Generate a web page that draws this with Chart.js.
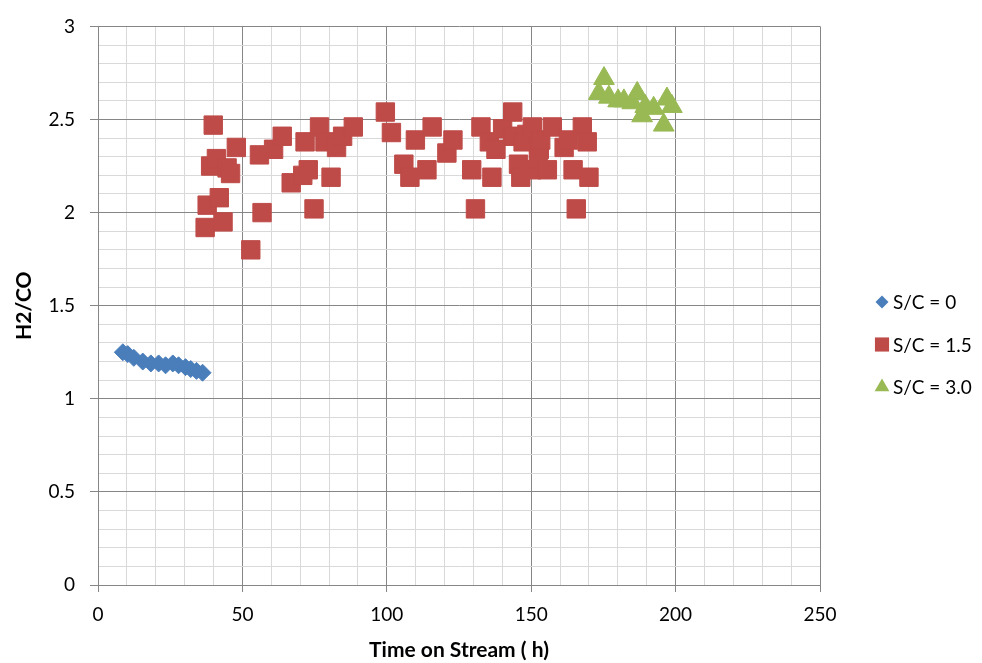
<!DOCTYPE html>
<html>
<head>
<meta charset="utf-8">
<script src="https://cdn.jsdelivr.net/npm/chart.js@4.4.1/dist/chart.umd.min.js"></script>
<style>
    html, body { margin: 0; padding: 0; background: #fff; }
    #wrap { width: 982px; height: 663px; position: relative; }
</style>
</head>
<body>
<div id="wrap"><canvas id="ratioChart"></canvas></div>
<script>
// S/C = 0
const sc0Time = [8.6, 10.3, 12.4, 15.5, 18.3, 21.0, 23.4, 25.9, 27.9, 30.3, 32.1, 34.1, 36.2];
const sc0Ratio = [1.25, 1.24, 1.22, 1.20, 1.19, 1.19, 1.18, 1.19, 1.18, 1.17, 1.16, 1.15, 1.14];

// S/C = 1.5
const sc15Time = [37.1, 37.8, 39.0, 39.9, 41.0, 42.0, 43.3, 44.7, 45.9, 47.9, 52.9, 55.9, 56.8, 60.8,
    63.8, 66.9, 70.9, 71.7, 72.8, 74.8, 76.7, 78.6, 80.7, 82.6, 84.7, 88.4,
    99.5, 101.6, 105.9, 108.0, 109.9, 113.9, 115.7, 120.8, 122.9, 129.4, 130.7, 132.6, 135.5, 136.4,
    137.8, 140.1, 143.6, 143.6, 145.6, 146.4, 147.2, 148.5, 150.2, 150.4, 152.5, 152.8, 153.3, 155.6,
    157.3, 161.4, 162.9, 164.5, 165.6, 167.7, 169.4, 170.0];
const sc15Ratio = [1.92, 2.04, 2.25, 2.47, 2.29, 2.08, 1.95, 2.24, 2.21, 2.35, 1.80, 2.31, 2.00, 2.34,
    2.41, 2.16, 2.20, 2.38, 2.23, 2.02, 2.46, 2.38, 2.19, 2.35, 2.41, 2.46,
    2.54, 2.43, 2.26, 2.19, 2.39, 2.23, 2.46, 2.32, 2.39, 2.23, 2.02, 2.46, 2.38, 2.19,
    2.34, 2.45, 2.54, 2.41, 2.26, 2.19, 2.38, 2.42, 2.23, 2.46, 2.29, 2.34, 2.39, 2.23,
    2.46, 2.35, 2.39, 2.23, 2.02, 2.46, 2.38, 2.19];

// S/C = 3.0
const sc30Time = [173.4, 175.2, 176.9, 180.1, 182.1, 185.0, 186.7, 188.4, 189.5, 192.4, 195.9, 197.0, 198.7];
const sc30Ratio = [2.64, 2.72, 2.62, 2.60, 2.60, 2.59, 2.64, 2.52, 2.57, 2.56, 2.47, 2.61, 2.57];

const seriesLabels = ['S/C = 0', 'S/C = 1.5', 'S/C = 3.0'];
const xMajorTicks = [0, 50, 100, 150, 200, 250];
const yMajorTicks = [0, 0.5, 1, 1.5, 2, 2.5, 3];

const FONT = 'Lato';
const majorGrid = '#868686';
const minorGrid = '#D9D9D9';

function toPoints(xs, ys) {
    return xs.map((x, i) => ({ x: x, y: ys[i] }));
}

const isMajorX = v => xMajorTicks.includes(Math.round(v));
const isMajorY = v => yMajorTicks.includes(Math.round(v * 10) / 10);

// legend drawn at the right, outside the plot
const sideLegend = {
    id: 'sideLegend',
    afterDraw(chart) {
        const ctx = chart.ctx;
        const x0 = chart.chartArea.right + 62;
        ctx.save();
        ctx.font = '19px ' + FONT;
        ctx.textBaseline = 'middle';
        ctx.textAlign = 'left';
        chart.data.datasets.forEach((ds, i) => {
            const y = 302 + i * 42.5;
            ctx.fillStyle = ds.backgroundColor;
            ctx.strokeStyle = ds.borderColor;
            Chart.helpers.drawPoint(ctx, {
                pointStyle: ds.pointStyle,
                radius: ds.legendRadius,
                borderWidth: 0,
                rotation: 0
            }, x0, y);
            ctx.fillStyle = '#000';
            ctx.fillText(ds.label, x0 + 11, y + 1);
        });
        ctx.restore();
    }
};

const ctx = document.getElementById('ratioChart').getContext('2d');

new Chart(ctx, {
    type: 'scatter',
    data: {
        datasets: [
            {
                label: seriesLabels[0],
                data: toPoints(sc0Time, sc0Ratio),
                pointStyle: 'rectRot',
                pointRadius: 8.5,
                backgroundColor: '#4A7EBB',
                borderColor: '#4A7EBB',
                borderWidth: 1,
                legendRadius: 6.5
            },
            {
                label: seriesLabels[1],
                data: toPoints(sc15Time, sc15Ratio),
                pointStyle: 'rect',
                pointRadius: 13,
                backgroundColor: '#BE4B48',
                borderColor: '#BE4B48',
                borderWidth: 1,
                legendRadius: 10
            },
            {
                label: seriesLabels[2],
                data: toPoints(sc30Time, sc30Ratio),
                pointStyle: 'triangle',
                pointRadius: 12,
                backgroundColor: '#98B954',
                borderColor: '#98B954',
                borderWidth: 1,
                legendRadius: 8.5
            }
        ]
    },
    options: {
        responsive: true,
        maintainAspectRatio: false,
        animation: false,
        layout: {
            padding: { top: 19, right: 162, bottom: 0, left: 0 }
        },
        plugins: {
            legend: { display: false },
            tooltip: { enabled: false }
        },
        scales: {
            x: {
                type: 'linear',
                min: 0,
                max: 250,
                afterFit: scale => { scale.height = 78; },
                border: { color: majorGrid, width: 1 },
                grid: {
                    color: c => isMajorX(c.tick.value) ? majorGrid : minorGrid,
                    tickColor: c => isMajorX(c.tick.value) ? majorGrid : 'rgba(0,0,0,0)',
                    tickLength: 7,
                    lineWidth: 1
                },
                ticks: {
                    stepSize: 10,
                    autoSkip: false,
                    maxRotation: 0,
                    padding: 11,
                    color: '#000',
                    font: { family: FONT, size: 19 },
                    callback: v => isMajorX(v) ? String(Math.round(v)) : ''
                },
                title: {
                    display: true,
                    text: 'Time on Stream ( h)',
                    color: '#000',
                    font: { family: FONT, size: 21, weight: 'bold' },
                    padding: { top: 0, bottom: 0 }
                }
            },
            y: {
                type: 'linear',
                min: 0,
                max: 3,
                afterFit: scale => { scale.width = 98; },
                border: { color: majorGrid, width: 1 },
                grid: {
                    color: c => isMajorY(c.tick.value) ? majorGrid : minorGrid,
                    tickColor: c => isMajorY(c.tick.value) ? majorGrid : 'rgba(0,0,0,0)',
                    tickLength: 8,
                    lineWidth: 1
                },
                ticks: {
                    stepSize: 0.1,
                    autoSkip: false,
                    padding: 15,
                    color: '#000',
                    font: { family: FONT, size: 19 },
                    callback: v => isMajorY(v) ? String(Math.round(v * 10) / 10) : ''
                },
                title: {
                    display: true,
                    text: 'H2/CO',
                    color: '#000',
                    font: { family: FONT, size: 21, weight: 'bold' },
                    padding: { top: 12, bottom: 0 }
                }
            }
        }
    },
    plugins: [sideLegend]
});
</script>
</body>
</html>
